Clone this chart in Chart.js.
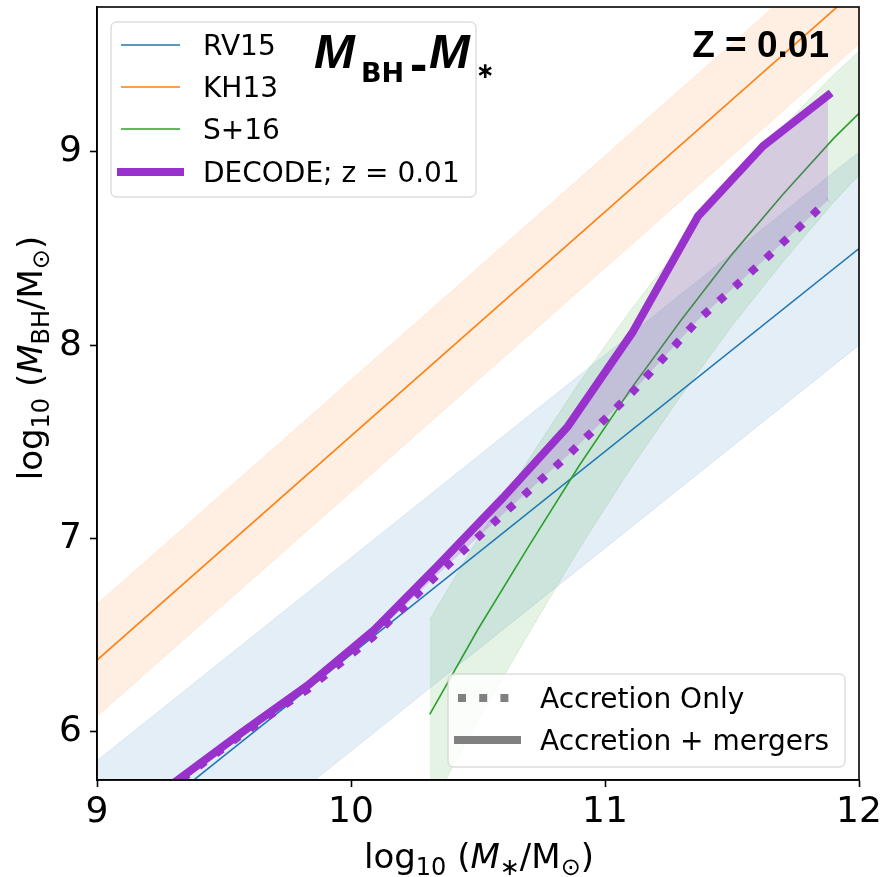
<!DOCTYPE html>
<html>
<head>
<meta charset="utf-8">
<script src="https://cdn.jsdelivr.net/npm/chart.js@4.4.0/dist/chart.umd.min.js"></script>
<style>
  html, body { margin: 0; padding: 0; background: #fff; }
  canvas { display: block; }
</style>
</head>
<body>
<canvas id="chart" width="881" height="877"></canvas>
<script>
const xTicks = [9, 10, 11, 12];
const yTicks = [6, 7, 8, 9];

// RV15
const rv15X = [9, 12];
const rv15Y = [5.35, 8.5];
const rv15Hi = [5.85, 9.0];
const rv15Lo = [4.85, 8.0];

// KH13
const kh13X = [9, 12];
const kh13Y = [6.37, 9.85];
const kh13Hi = [6.66, 10.14];
const kh13Lo = [6.08, 9.56];

// S+16
const s16X = [10.31, 10.5, 10.7, 10.9, 11.1, 11.3, 11.5, 11.7, 11.9, 12.0];
const s16Y = [6.09, 6.53, 6.96, 7.38, 7.77, 8.13, 8.47, 8.78, 9.07, 9.20];
const s16Hi = [6.58, 7.00, 7.41, 7.81, 8.18, 8.52, 8.84, 9.13, 9.40, 9.52];
const s16Lo = [5.60, 6.06, 6.51, 6.95, 7.36, 7.74, 8.10, 8.43, 8.74, 8.88];

// DECODE z = 0.01
const decX = [9.062, 9.318, 9.574, 9.83, 10.086, 10.342, 10.598, 10.854, 11.11, 11.366, 11.622, 11.878];
const decMergers = [5.51, 5.75, 6.00, 6.24, 6.52, 6.86, 7.21, 7.58, 8.07, 8.667, 9.03, 9.293];
const decAccOnly = [5.50, 5.74, 5.99, 6.22, 6.49, 6.815, 7.125, 7.43, 7.76, 8.13, 8.435, 8.75];

const seriesNames = ['RV15', 'KH13', 'S+16', 'DECODE; z = 0.01'];
const modeNames = ['Accretion Only', 'Accretion + mergers'];
const zText = 'Z = 0.01';

const BLUE = '#1f77b4', ORANGE = '#ff7f0e', GREEN = '#2ca02c', PURPLE = '#9932cc';
const DV = '"DejaVu Sans"';
const LIB = '"Liberation Sans"';

function pts(xs, ys) {
  return xs.map((x, i) => ({ x: x, y: ys[i] }));
}

function line(data, color, width, extra) {
  return Object.assign({
    data: data,
    borderColor: color,
    borderWidth: width,
    backgroundColor: color,
    fill: false,
    pointRadius: 0,
    tension: 0,
    clip: 0
  }, extra || {});
}

function band(data, rgba, fill) {
  return {
    data: data,
    borderColor: rgba,
    borderWidth: 1,
    backgroundColor: rgba,
    fill: fill,
    pointRadius: 0,
    tension: 0,
    clip: 0
  };
}

// index 0 is drawn on top
const datasets = [
  line(pts(decX, decMergers), PURPLE, 8, { fill: '+1', backgroundColor: 'rgba(153,50,204,0.2)', borderCapStyle: 'square', borderJoinStyle: 'round' }),
  line(pts(decX, decAccOnly), PURPLE, 8, { borderDash: [8, 13.2], borderCapStyle: 'butt' }),
  line(pts(s16X, s16Y), GREEN, 1.6),
  line(pts(kh13X, kh13Y), ORANGE, 1.6),
  line(pts(rv15X, rv15Y), BLUE, 1.6),
  band(pts(s16X, s16Hi), 'rgba(44,160,44,0.13)', '+1'),
  band(pts(s16X, s16Lo), 'rgba(44,160,44,0.13)', false),
  band(pts(kh13X, kh13Hi), 'rgba(255,127,14,0.12)', '+1'),
  band(pts(kh13X, kh13Lo), 'rgba(255,127,14,0.12)', false),
  band(pts(rv15X, rv15Hi), 'rgba(31,119,180,0.12)', '+1'),
  band(pts(rv15X, rv15Lo), 'rgba(31,119,180,0.12)', false)
];

function richWidth(ctx, parts) {
  let w = 0;
  parts.forEach(p => { ctx.font = p.f; w += ctx.measureText(p.t).width; });
  return w;
}

function drawRich(ctx, parts, x, y) {
  let cx = x - richWidth(ctx, parts) / 2;
  parts.forEach(p => {
    ctx.font = p.f;
    ctx.fillText(p.t, cx, y + (p.dy || 0));
    cx += ctx.measureText(p.t).width;
  });
}

function roundBox(ctx, x, y, w, h, r) {
  ctx.beginPath();
  ctx.moveTo(x + r, y);
  ctx.lineTo(x + w - r, y);
  ctx.quadraticCurveTo(x + w, y, x + w, y + r);
  ctx.lineTo(x + w, y + h - r);
  ctx.quadraticCurveTo(x + w, y + h, x + w - r, y + h);
  ctx.lineTo(x + r, y + h);
  ctx.quadraticCurveTo(x, y + h, x, y + h - r);
  ctx.lineTo(x, y + r);
  ctx.quadraticCurveTo(x, y, x + r, y);
  ctx.closePath();
  ctx.fillStyle = 'rgba(255,255,255,0.8)';
  ctx.fill();
  ctx.strokeStyle = '#cccccc';
  ctx.lineWidth = 1;
  ctx.stroke();
}

function handle(ctx, x0, x1, y, color, width, dash, cap) {
  ctx.beginPath();
  ctx.setLineDash(dash || []);
  ctx.lineCap = cap || 'butt';
  ctx.strokeStyle = color;
  ctx.lineWidth = width;
  ctx.moveTo(x0, y);
  ctx.lineTo(x1, y);
  ctx.stroke();
  ctx.setLineDash([]);
}

const decorations = {
  id: 'decorations',
  afterDraw(chart) {
    const ctx = chart.ctx;
    const a = chart.chartArea;
    ctx.save();

    // top/right spines
    ctx.strokeStyle = '#000';
    ctx.lineWidth = 1.6;
    ctx.strokeRect(a.left, a.top, a.right - a.left, a.bottom - a.top);

    ctx.fillStyle = '#000';
    ctx.textBaseline = 'alphabetic';
    ctx.textAlign = 'left';

    // axis titles
    const big = '34px ' + DV, sub = '24px ' + DV, it = 'italic 34px ' + DV;
    drawRich(ctx, [
      { t: 'log', f: big }, { t: '10', f: sub, dy: 7 }, { t: ' (', f: big },
      { t: 'M', f: it }, { t: '\u2217', f: sub, dy: 7 }, { t: '/M', f: big },
      { t: '\u2299', f: sub, dy: 7 }, { t: ')', f: big }
    ], (a.left + a.right) / 2 + 1, 868);

    ctx.save();
    ctx.translate(42, 358);
    ctx.rotate(-Math.PI / 2);
    drawRich(ctx, [
      { t: 'log', f: big }, { t: '10', f: sub, dy: 7 }, { t: ' (', f: big },
      { t: 'M', f: it }, { t: 'BH', f: sub, dy: 7 }, { t: '/M', f: big },
      { t: '\u2299', f: sub, dy: 7 }, { t: ')', f: big }
    ], 0, 0);
    ctx.restore();

    // legend 1
    roundBox(ctx, 111, 22, 365, 175, 6);
    const colors = [BLUE, ORANGE, GREEN, PURPLE];
    const widths = [1.6, 1.6, 1.6, 8];
    const rowsY = [45, 87, 129, 172];
    seriesNames.forEach((name, i) => {
      handle(ctx, 121, 180, rowsY[i], colors[i], widths[i], null, i === 3 ? 'square' : 'butt');
      ctx.fillStyle = '#000';
      ctx.font = '28px ' + DV;
      ctx.fillText(name, 203, rowsY[i] + 10);
    });

    // legend 2
    roundBox(ctx, 448, 674, 397, 93, 6);
    handle(ctx, 458, 517, 698, '#808080', 8, [8, 13.2], 'butt');
    handle(ctx, 458, 517, 740, '#808080', 8, null, 'square');
    ctx.fillStyle = '#000';
    ctx.font = '28px ' + DV;
    ctx.fillText(modeNames[0], 540, 708);
    ctx.fillText(modeNames[1], 540, 750);

    // title (on top of the legend)
    ctx.fillStyle = '#000';
    ctx.font = 'italic bold 49px ' + LIB;
    ctx.fillText('M', 314, 68);
    ctx.font = 'bold 27px ' + DV;
    ctx.fillText('BH', 361, 82);
    ctx.font = 'bold 52px ' + LIB;
    ctx.fillText('-', 410, 81);
    ctx.font = 'italic bold 49px ' + LIB;
    ctx.fillText('M', 429, 68);
    ctx.font = 'bold 22px ' + DV;
    ctx.textBaseline = 'middle';
    ctx.fillText('\u2217', 476, 72);
    ctx.textBaseline = 'alphabetic';

    // redshift label
    ctx.font = 'bold 37px ' + LIB;
    ctx.textAlign = 'right';
    ctx.fillText(zText, 829, 57);

    ctx.restore();
  }
};

new Chart(document.getElementById('chart'), {
  type: 'line',
  data: { datasets: datasets },
  options: {
    responsive: false,
    animation: false,
    layout: { padding: { left: 0, right: 22, top: 7, bottom: 0 } },
    plugins: { legend: { display: false }, tooltip: { enabled: false } },
    scales: {
      x: {
        type: 'linear',
        min: 9,
        max: 12,
        afterBuildTicks: s => { s.ticks = xTicks.map(v => ({ value: v })); },
        afterFit: s => { s.height = 97; s.paddingLeft = 0; s.paddingRight = 0; },
        ticks: { color: '#000', font: { family: 'DejaVu Sans', size: 36 }, padding: 4, maxRotation: 0, autoSkip: false },
        grid: { drawOnChartArea: false, tickLength: 7, tickWidth: 1.6, tickColor: '#000' },
        border: { color: '#000', width: 1.6 }
      },
      y: {
        type: 'linear',
        min: 5.75,
        max: 9.75,
        afterBuildTicks: s => { s.ticks = yTicks.map(v => ({ value: v })); },
        afterFit: s => { s.width = 97; s.paddingTop = 0; s.paddingBottom = 0; },
        ticks: { color: '#000', font: { family: 'DejaVu Sans', size: 36 }, padding: 8, autoSkip: false },
        grid: { drawOnChartArea: false, tickLength: 7, tickWidth: 1.6, tickColor: '#000' },
        border: { color: '#000', width: 1.6 }
      }
    }
  },
  plugins: [decorations]
});
</script>
</body>
</html>
